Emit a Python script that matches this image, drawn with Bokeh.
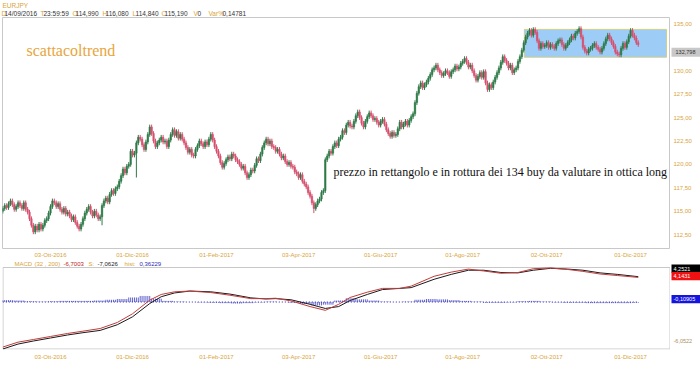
import numpy as np
import pandas as pd
from bokeh.plotting import figure
from bokeh.models import ColumnDataSource, Range1d, FixedTicker, Label
from bokeh.layouts import column, row
from bokeh.embed import file_html
from bokeh.resources import INLINE
from bokeh.core.properties import value

# ---------------- data ----------------
symbol = "EURJPY"
start_date = "2016-08-29"
closes = [
    115.3, 115.6, 115.4, 115.8, 116.1, 115.7, 115.2, 115.5, 115.9, 115.6,
    115.3, 115.9, 115.2, 114.9, 114.2, 113.5, 112.8, 113.4, 113.0, 113.6,
    113.1, 113.5, 114.0, 114.2, 114.8, 115.5, 116.1, 115.9, 115.5, 115.8,
    115.2, 114.9, 115.3, 114.7, 114.9, 114.5, 114.1, 114.4, 113.8, 113.4,
    113.1, 113.6, 114.2, 114.8, 115.2, 115.5, 114.9, 114.5, 115.0, 114.6,
    114.2, 114.4, 115.6, 116.1, 116.4, 116.0, 116.8, 117.2, 116.9, 117.4,
    117.6, 118.2, 118.8, 119.5, 119.1, 119.8, 120.0, 121.4, 121.0, 121.2,
    122.3, 122.9, 122.7, 122.1, 121.6, 122.4, 123.2, 124.0, 123.3, 122.5,
    121.9, 122.3, 122.6, 122.9, 122.4, 122.5, 121.9, 122.6, 123.2, 123.7,
    123.1, 123.5, 122.8, 123.2, 122.7, 122.3, 121.8, 121.3, 121.6, 121.0,
    120.9, 121.6, 122.0, 122.5, 122.2, 121.9, 122.4, 122.1, 122.7, 123.2,
    122.6, 121.9, 121.4, 120.9, 120.2, 119.7, 120.1, 120.5, 120.8, 120.6,
    121.1, 120.9, 120.5, 120.3, 120.0, 119.6, 119.8, 119.1, 118.6, 118.9,
    119.4, 119.3, 119.9, 120.6, 120.4, 121.1, 121.8, 122.3, 122.7, 122.2,
    122.5, 121.9, 121.8, 121.4, 121.6, 121.1, 120.7, 120.9, 120.3, 120.0,
    120.2, 119.8, 119.7, 119.2, 119.0, 118.6, 118.9, 118.2, 117.9, 117.6,
    117.0, 116.6, 115.9, 115.3, 115.7, 116.1, 116.3, 117.0, 117.2, 120.5,
    120.9, 121.4, 121.2, 121.9, 122.3, 122.0, 122.7, 122.9, 123.6, 123.4,
    124.2, 124.5, 124.1, 124.0, 124.6, 125.2, 125.6, 125.0, 124.4, 124.0,
    124.6, 125.1, 125.5, 125.2, 124.8, 124.9, 124.5, 124.2, 124.6, 124.8,
    124.3, 123.7, 123.3, 123.0, 123.4, 123.1, 123.2, 123.8, 124.5, 124.0,
    124.3, 124.6, 124.2, 124.7, 125.1, 125.4, 126.6, 127.6, 128.3, 128.7,
    128.2, 128.5, 128.8, 129.2, 129.6, 130.1, 130.3, 130.6, 130.1, 129.8,
    129.5, 129.7, 130.0, 129.8, 129.4, 129.9, 130.1, 130.5, 130.2, 130.4,
    130.8, 131.0, 131.3, 130.9, 130.4, 130.6, 130.0, 129.5, 129.0, 129.4,
    129.8, 129.3, 129.9, 128.7, 128.0, 128.5, 128.2, 128.8, 129.3, 129.8,
    130.3, 130.9, 131.5, 131.1, 130.8, 130.3, 130.6, 129.8, 130.1, 130.3,
    131.0, 131.5, 132.2, 133.0, 133.6, 134.0, 134.3, 133.8, 134.4, 134.1,
    133.2, 132.4, 132.9, 132.6, 132.7, 133.0, 132.5, 132.8, 132.6, 132.4,
    132.9, 133.2, 133.3, 132.8, 132.4, 132.7, 133.0, 133.3, 133.7, 133.5,
    134.0, 134.2, 134.5, 133.6, 132.5, 132.1, 131.9, 132.3, 132.4, 132.7,
    132.9, 132.5, 132.3, 132.0, 132.4, 132.9, 133.4, 133.8, 133.4, 133.0,
    132.6, 132.0, 131.8, 131.7, 132.4, 132.9, 132.5, 133.1, 133.7, 134.3,
    133.8, 133.5, 133.0, 132.8,
]
first_open = 115.0
long_wick_idx = [52, 70, 163]
long_wick_low = [113.5, 118.6, 114.8]

tick_dates = ["2016-10-03", "2016-12-01", "2017-02-01", "2017-04-03",
              "2017-06-01", "2017-08-01", "2017-10-02", "2017-12-01"]
tick_labels = ["03-Ott-2016", "01-Dic-2016", "01-Feb-2017", "03-Apr-2017",
               "01-Giu-2017", "01-Ago-2017", "02-Ott-2017", "01-Dic-2017"]
price_ticks = [112.5, 115.0, 117.5, 120.0, 122.5, 125.0, 127.5, 130.0, 135.0]
price_tick_labels = ["112,50", "115,00", "117,50", "120,00", "122,50",
                     "125,00", "127,50", "130,00", "135,00"]
last_price_text = "132,798"
last_price_tag_at = 131.98

rect_span_idx = [273.3, 347.8]
rect_prices = [131.45, 134.42]

header_items = ["D", "14/09/2016", "T", "23:59:59", "O", "114,990", "H", "116,080",
                "L", "114,840", "C", "115,190", "V", "0", "Var%", "0,14781"]
macd_header = ["MACD", "(32 , 200)", "-6,7003", "S:", "-7,0626", "hist:", "0,36229"]

macd_idx = [0, 8, 16, 25, 34, 42, 51, 60, 68, 77, 83, 90, 98, 109, 119, 130,
            138, 143, 151, 161, 169, 176, 182, 191, 199, 208, 214, 226, 235,
            244, 252, 261, 270, 278, 287, 296, 304, 313, 322, 333]
signal_line = [-6.2, -5.55, -5.15, -4.75, -4.35, -4.05, -3.75, -3.0, -1.95, -0.2,
               0.7, 1.2, 1.45, 1.35, 1.05, 0.55, 0.4, 0.45, 0.3, -0.3,
               -0.85, -0.6, 0.2, 1.0, 1.65, 1.8, 1.9, 3.0, 3.65, 4.2,
               4.2, 3.9, 3.85, 4.2, 4.45, 4.35, 4.2, 3.85, 3.65, 3.35]
macd_line = [-5.95, -5.3, -4.95, -4.55, -4.15, -3.85, -3.5, -2.7, -1.55, 0.25,
             1.0, 1.35, 1.45, 1.25, 0.9, 0.45, 0.45, 0.5, 0.15, -0.6,
             -1.1, -0.3, 0.6, 1.3, 1.8, 1.8, 2.1, 3.4, 3.95, 4.35,
             4.1, 3.8, 3.9, 4.4, 4.5, 4.3, 4.05, 3.7, 3.5, 3.25]
hist_group = 6
hist_vals = [0.25, 0.2, 0.1, 0.05, 0.1, 0.15, 0.15, 0.15, 0.2, 0.3,
             0.4, 0.6, 0.8, 0.45, 0.15, 0.05, 0.0, -0.05, -0.1, -0.15,
             -0.2, -0.15, -0.05, 0.05, 0.0, -0.1, -0.25, -0.45, -0.35, 0.2,
             0.5, 0.35, 0.2, 0.05, 0.0, 0.05, 0.3, 0.4, 0.35, 0.25,
             0.15, 0.05, -0.1, -0.1, -0.05, 0.1, 0.15, 0.05, -0.05, -0.1,
             -0.1, -0.15, -0.15, -0.15, -0.15, -0.1]
macd_tags = ["4,2521", "4,1431", "-0,10905", "-6,0522"]
macd_tag_at = [4.30, 3.24, -0.07, -6.14]

# ---------------- derived ----------------
N = len(closes)
dates = pd.bdate_range(start_date, periods=N)
idx = np.arange(N)
c = np.array(closes)
o = np.concatenate([[first_open], c[:-1]])
WICK = 0.25
hi = np.maximum(o, c) + WICK
lo = np.minimum(o, c) - WICK
for i, v in zip(long_wick_idx, long_wick_low):
    lo[i] = min(lo[i], v)
up = c >= o
UP_C, DN_C = "#2f7a48", "#d6506f"
col = [UP_C if u else DN_C for u in up]

def date_index(d):
    return int(np.searchsorted(dates.values, np.datetime64(pd.Timestamp(d))))

tick_idx = [date_index(d) for d in tick_dates]
overrides = {t: lab for t, lab in zip(tick_idx, tick_labels)}

src = ColumnDataSource(dict(x=idx, c=c, hi=hi, lo=lo, col=col,
                            top=np.maximum(o, c), bot=np.minimum(o, c)))

ORANGE = "#d9a43a"
DARK = "#333333"
SANS = "Liberation Sans"
SERIF = "Liberation Serif"
AX_FS = "6px"
HD_FS = "6.5px"
MH_FS = "6px"
TAG_FS = "5.5px"
FRAME = "#c8c8c8"

X0, X1 = -0.16, 349.9
Y0, Y1 = 111.02, 135.69
M0, M1 = -6.27, 4.56
PYU = 233.0 / (Y1 - Y0)
MYU = 82.0 / (M1 - M0)
PXU = 668.0 / (X1 - X0)

def bare(p):
    p.grid.visible = False
    p.outline_line_color = None
    p.background_fill_color = "white"
    p.border_fill_color = "white"
    return p

def style_xaxis(ax, standoff):
    ax.axis_line_color = None
    ax.major_tick_line_color = None
    ax.minor_tick_line_color = None
    ax.major_tick_out = 0
    ax.major_tick_in = 0
    ax.minor_tick_out = 0
    ax.minor_tick_in = 0
    ax.major_label_text_font_size = AX_FS
    ax.major_label_text_color = ORANGE
    ax.major_label_text_font = SANS
    ax.major_label_standoff = standoff
    ax.ticker = FixedTicker(ticks=tick_idx)
    ax.major_label_overrides = overrides

def texts(p, xs, ys, ts, cols, size, font=SANS, align="left"):
    p.text(x=xs, y=ys, text=ts, text_color=cols, text_font=value(font),
           text_font_size=value(size), text_baseline="middle", text_align=align)

# ---------------- header strip (y 0..17) ----------------
ph1 = bare(figure(width=700, height=17, x_range=Range1d(0, 700), y_range=Range1d(17, 0),
                  output_backend="svg", toolbar_location=None, x_axis_location=None,
                  y_axis_location=None, min_border=0))
hdr_x = [1, 4, 40, 43, 72, 75, 102, 105, 132, 135, 161, 164, 193, 197, 208, 222]
hdr_c = [ORANGE if k % 2 == 0 else DARK for k in range(len(header_items))]
texts(ph1, [2] + hdr_x, [5] + [13] * len(hdr_x), [symbol] + header_items,
      [ORANGE] + hdr_c, HD_FS)

# ---------------- price panel ----------------
p1 = bare(figure(width=670, height=243, x_range=Range1d(X0, X1), y_range=Range1d(Y0, Y1),
                 output_backend="svg", toolbar_location=None, y_axis_location=None,
                 min_border_left=2, min_border_right=0, min_border_top=0, min_border_bottom=10))
p1.outline_line_color = FRAME
style_xaxis(p1.xaxis[0], 3)

p1.quad(left=[rect_span_idx[0]], right=[rect_span_idx[1]], bottom=[rect_prices[0]],
        top=[rect_prices[1]], fill_color="#9dcdf7", line_color="#cfcf8a", line_width=1)
p1.segment(x0="x", y0="lo", x1="x", y1="hi", line_color="col", line_width=1, source=src)
p1.vbar(x="x", width=0.75, top="top", bottom="bot", fill_color="col", line_color="col",
        line_width=0.6, source=src)

def xd(px):
    return X0 + (px - 2) / PXU

def yd1(py):
    return Y1 - (py - 17) / PYU

p1.add_layout(Label(x=xd(26), y=yd1(50), text="scattacoltrend", text_color="#e8a53c",
                    text_font_size="16px", text_font=SERIF, text_baseline="middle"))
p1.add_layout(Label(x=xd(333), y=yd1(173),
                    text="prezzo in rettangolo e in rottura dei 134 buy da valutare in ottica long",
                    text_color="#111111", text_font_size="12px", text_font=SERIF,
                    text_baseline="middle"))

# right strip of price panel (x 670..700)
pr1 = bare(figure(width=30, height=243, x_range=Range1d(0, 30), y_range=p1.y_range,
                  output_backend="svg", toolbar_location=None, x_axis_location=None,
                  y_axis_location=None, min_border_left=0, min_border_right=0,
                  min_border_top=0, min_border_bottom=10))
texts(pr1, [3] * len(price_ticks), price_ticks, price_tick_labels,
      [ORANGE] * len(price_ticks), AX_FS)
h1 = 4.5 / PYU
pr1.quad(left=[1], right=[30], bottom=[last_price_tag_at - h1], top=[last_price_tag_at + h1],
         fill_color="#c8c8c8", line_color=None)
texts(pr1, [15], [last_price_tag_at], [last_price_text], [DARK], TAG_FS, align="center")

# ---------------- MACD panel (frame reaches up into the header row) ----------------
HEAD = 7            # px of header row above the MACD box
M1H = M1 + HEAD / MYU
p2 = bare(figure(width=670, height=105, x_range=p1.x_range, y_range=Range1d(M0, M1H),
                 output_backend="svg", toolbar_location=None, y_axis_location=None,
                 min_border_left=2, min_border_right=0, min_border_top=0, min_border_bottom=16))
style_xaxis(p2.xaxis[0], 4)
half_x, half_y = 0.5 / PXU, 0.5 / MYU
p2.quad(left=[X0 + half_x], right=[X1 - half_x], bottom=[M0 + half_y], top=[M1],
        fill_color=None, line_color=FRAME, line_width=1)

hist = np.repeat(np.array(hist_vals), hist_group)[:N]
p2.segment(x0=idx, y0=np.zeros(N), x1=idx, y1=hist, line_color="#5050c4",
           line_width=0.9)
p2.line([idx[0], idx[-1]], [0, 0], line_color="#2424c0", line_dash="1 2", line_width=1)
p2.line(macd_idx, signal_line, line_color="#1a1a1a", line_width=1)
p2.line(macd_idx, macd_line, line_color="#c23b3b", line_width=1)

mh_x = [14, 34, 63, 88, 97, 124, 139]
mh_c = [ORANGE, ORANGE, "#c22020", ORANGE, "#222222", ORANGE, "#2b2bb5"]
mh_y = M1 + 3.3 / MYU
texts(p2, [xd(v) for v in mh_x], [mh_y] * len(mh_x), macd_header, mh_c, MH_FS)

PR2_BOTTOM = 8
pr2 = bare(figure(width=30, height=105, x_range=Range1d(0, 30),
                  y_range=Range1d(M0 - (16 - PR2_BOTTOM) / MYU, M1H),
                  output_backend="svg", toolbar_location=None, x_axis_location=None,
                  y_axis_location=None, min_border_left=0, min_border_right=0,
                  min_border_top=0, min_border_bottom=PR2_BOTTOM))
h2 = 4.5 / MYU
tag_bg = ["#000000", "#ee1111", "#1515dd", None]
tag_fg = ["white", "white", "white", "#a89060"]
for t, yv, bg, fg in zip(macd_tags, macd_tag_at, tag_bg, tag_fg):
    if bg is not None:
        pr2.quad(left=[1], right=[30], bottom=[yv - h2], top=[yv + h2],
                 fill_color=bg, line_color=None)
    texts(pr2, [3], [yv], [t], [fg], TAG_FS)

layout = column(ph1, row(p1, pr1, spacing=0), row(p2, pr2, spacing=0), spacing=0)
open("out.html", "w").write(file_html(layout, INLINE))
